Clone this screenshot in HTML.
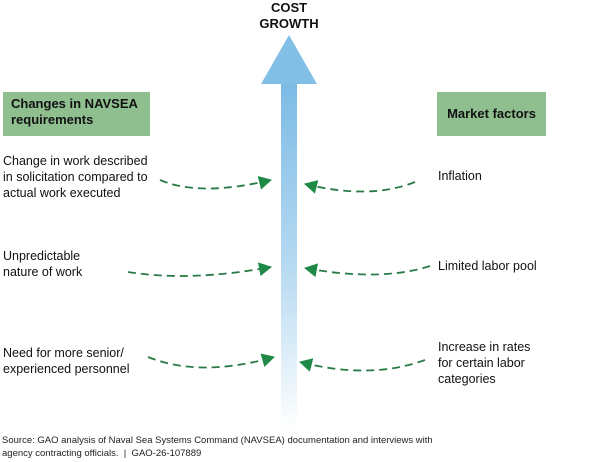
<!DOCTYPE html>
<html><head><meta charset="utf-8"><style>
body{margin:0;width:600px;height:462px;background:#fff;font-family:"Liberation Sans",Arial,sans-serif;position:relative;overflow:hidden}
.t{position:absolute;font-size:12.5px;line-height:16px;color:#111}
.box{position:absolute;background:#8fbf8f;font-weight:bold;font-size:13px;line-height:16px;color:#111}
</style></head><body>
<svg width="600" height="462" style="position:absolute;left:0;top:0">
<defs>
<linearGradient id="g" x1="0" y1="0" x2="0" y2="1">
<stop offset="0" stop-color="#7dbbe5"/><stop offset="0.55" stop-color="#b9dbf2"/><stop offset="1" stop-color="#ffffff"/></linearGradient>
<marker id="a" markerWidth="14" markerHeight="14" refX="12" refY="7" orient="auto" markerUnits="userSpaceOnUse">
<path d="M0,0 L13,7 L0,14 Z" fill="#1f8a45"/></marker>
</defs>
<polygon points="289,35 261,84 317,84" fill="#82bfe7"/>
<rect x="281" y="84" width="16" height="346" fill="url(#g)"/>
<g fill="none" stroke="#2a7a48" stroke-width="1.8" stroke-dasharray="8,5" marker-end="url(#a)">
<path d="M160,180 Q200,197 271,180"/>
<path d="M415,182 Q370,200 305,184"/>
<path d="M128,272 Q190,282 271,267"/>
<path d="M430,266 Q380,282 305,268"/>
<path d="M148,357 Q200,378 274,357"/>
<path d="M425,360 Q370,380 300,362"/>
</g>
</svg>
<div class="t" style="left:256px;top:0px;width:66px;text-align:center;font-weight:bold;font-size:13px;line-height:16px">COST<br>GROWTH</div>
<div class="box" style="left:3px;top:92px;width:147px;height:44px;padding:4px 0 0 8px;box-sizing:border-box">Changes in NAVSEA<br>requirements</div>
<div class="box" style="left:437px;top:92px;width:109px;height:44px;line-height:44px;text-align:center">Market factors</div>
<div class="t" style="left:3px;top:153px">Change in work described<br>in solicitation compared to<br>actual work executed</div>
<div class="t" style="left:3px;top:248px">Unpredictable<br>nature of work</div>
<div class="t" style="left:3px;top:345px">Need for more senior/<br>experienced personnel</div>
<div class="t" style="left:438px;top:168px">Inflation</div>
<div class="t" style="left:438px;top:258px">Limited labor pool</div>
<div class="t" style="left:438px;top:339px">Increase in rates<br>for certain labor<br>categories</div>
<div class="t" style="left:2px;top:434px;font-size:9.5px;line-height:13px;color:#222">Source: GAO analysis of Naval Sea Systems Command (NAVSEA) documentation and interviews with<br>agency contracting officials. &nbsp;| &nbsp;GAO-26-107889</div>
</body></html>
